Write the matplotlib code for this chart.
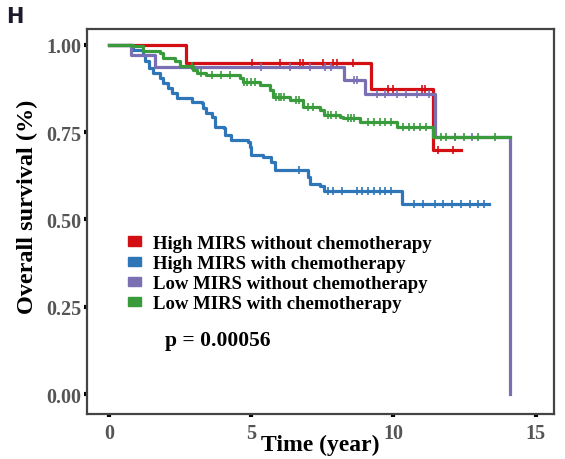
import numpy as np
import matplotlib
matplotlib.use('Agg')
import matplotlib.pyplot as plt
from matplotlib.patches import Patch

# Kaplan-Meier step data (time in years, survival)
red_t = [0.0, 2.70, 9.21, 11.40, 12.37]
red_s = [1.0, 0.949, 0.873, 0.698, 0.698]
red_cens = [5.01, 6.01, 6.71, 6.82, 7.53, 7.87, 8.01, 8.58, 9.81, 9.99, 11.02, 11.12,
            11.58, 12.10]

blue_t = [0.0, 0.85, 1.20, 1.26, 1.38, 1.55, 1.79, 1.90, 2.07, 2.19, 2.37, 2.91, 3.25, 3.31,
          3.42, 3.61, 3.72, 4.02, 4.08, 4.30, 4.88, 4.94, 5.00, 5.41, 5.70, 5.83, 7.01, 7.08,
          7.42, 7.54, 10.29, 13.35]
blue_s = [1.0, 0.986, 0.972, 0.953, 0.934, 0.919, 0.905, 0.89, 0.876, 0.862, 0.849, 0.836,
          0.833, 0.818, 0.804, 0.795, 0.766, 0.761, 0.742, 0.727, 0.722, 0.708, 0.684, 0.679,
          0.665, 0.641, 0.622, 0.602, 0.597, 0.583, 0.545, 0.545]
blue_cens = [6.67, 7.69, 7.89, 8.20, 8.71, 8.91, 9.11, 9.32, 9.52, 9.72, 9.93, 10.74, 11.05,
             11.45, 11.76, 12.06, 12.37, 12.68, 12.98, 13.18]

purple_t = [0.0, 0.75, 1.61, 8.27, 9.01, 11.45, 14.10, 14.10]
purple_s = [1.0, 0.972, 0.938, 0.90, 0.859, 0.735, 0.735, 0.0]
purple_cens = [5.35, 6.37, 7.08, 7.59, 7.79, 8.60, 8.70, 9.42, 9.72, 10.13, 10.44, 10.84,
               11.25, 12.17, 12.78]

green_t = [0.0, 0.85, 1.20, 1.79, 1.90, 2.31, 2.49, 2.96, 3.08, 3.42, 4.60, 4.72, 5.31, 5.66,
           5.77, 6.37, 6.83, 7.42, 7.54, 8.13, 8.24, 8.83, 10.11, 11.40, 14.10]
green_s = [1.0, 0.996, 0.982, 0.977, 0.963, 0.953, 0.939, 0.929, 0.919, 0.914, 0.905, 0.895,
           0.886, 0.871, 0.852, 0.842, 0.823, 0.814, 0.799, 0.794, 0.79, 0.78, 0.766, 0.737,
           0.737]
green_cens = [2.90, 3.21, 3.62, 3.92, 4.23, 4.74, 4.84, 4.99, 5.14, 5.86, 5.96, 6.06, 6.16,
              6.57, 6.67, 6.98, 7.18, 7.69, 7.79, 7.99, 8.40, 8.50, 8.60, 9.11, 9.32, 9.52,
              9.72, 9.93, 10.33, 10.54, 10.74, 10.94, 11.15, 11.66, 11.86, 12.17, 12.47,
              12.98, 13.59]

labels = ['High MIRS without chemotherapy', 'High MIRS with chemotherapy',
          'Low MIRS without chemotherapy', 'Low MIRS with chemotherapy']
colors = ['#d40f14', '#2f76b8', '#7a6fb2', '#3a9b3c']
p_text = 'p = 0.00056'


def surv_at(t, times, surv):
    """value of the step curve at time t"""
    i = np.searchsorted(times, t, side='right') - 1
    return surv[i]


serif = 'Liberation Serif'
fig = plt.figure(figsize=(5.65, 4.6), dpi=100)
ax = fig.add_axes([0.154, 0.098, 0.827, 0.837])

groups = [(red_t, red_s, red_cens), (blue_t, blue_s, blue_cens),
          (purple_t, purple_s, purple_cens), (green_t, green_s, green_cens)]
order = [1, 0, 2, 3]
for k in order:
    t, s, c = groups[k]
    ax.step(t, s, where='post', color=colors[k], lw=2.3, zorder=2 + k * 0.1)
    cy = [surv_at(x, t, s) for x in c]
    ax.plot(c, cy, ls='none', marker='|', ms=6, mew=1.2, color=colors[k],
            zorder=2 + k * 0.1)

ax.set_xlim(-0.785, 15.66)
ax.set_ylim(-0.057, 1.046)
ax.set_xticks([0, 5, 10, 15])
ax.set_yticks([0, 0.25, 0.5, 0.75, 1.0])
ax.set_yticklabels(['0.00', '0.25', '0.50', '0.75', '1.00'])
for lab in ax.get_xticklabels() + ax.get_yticklabels():
    lab.set_family(serif)
    lab.set_weight('bold')
    lab.set_size(14.5)
    lab.set_color('#555555')
ax.tick_params(length=2.2, width=3, color='black', direction='out')
ax.tick_params(axis='y', pad=2)
ax.tick_params(axis='x', pad=4)

for sp in ax.spines.values():
    sp.set_color('#444444')
    sp.set_linewidth(1.6)

ax.set_xlabel('Time (year)', family=serif, weight='bold', size=17, va='center')
ax.xaxis.set_label_coords(0.5, -0.08)
ax.set_ylabel('Overall survival (%)', family=serif, weight='bold', size=17.5, va='center')
ax.yaxis.set_label_coords(-0.128, 0.54)

handles = [Patch(color=c) for c in colors]
ax.legend(handles, labels, loc='upper left', bbox_to_anchor=(0.088, 0.465),
          frameon=False, borderpad=0, borderaxespad=0, handlelength=0.67,
          handleheight=0.4, handletextpad=0.67, labelspacing=0.17,
          prop={'family': serif, 'weight': 'bold', 'size': 13.5})

ax.text(1.96, 0.155, p_text, family=serif, weight='bold', size=15.5, va='center')

fig.text(0.01, 0.985, 'H', family='DejaVu Sans', weight='bold', size=15,
         color='#1b1b2b', va='top')

plt.savefig('out.png', dpi=100)
